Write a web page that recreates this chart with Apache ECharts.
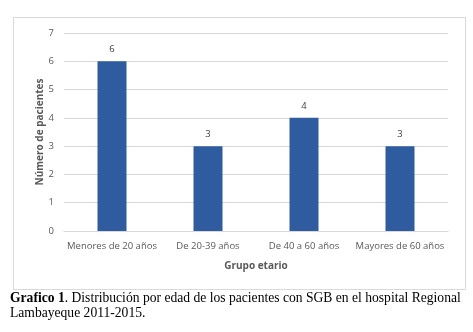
<!DOCTYPE html>
<html><head><meta charset="utf-8">
<script src="https://cdn.jsdelivr.net/npm/echarts@6/dist/echarts.min.js"></script>
<style>html,body{margin:0;padding:0;background:#fff}#c{width:473px;height:332px}</style>
</head><body><div id="c"></div>
<script>
const categories = ['Menores de 20 años', 'De 20-39 años', 'De 40 a 60 años', 'Mayores de 60 años'];
const patients = [6, 3, 4, 3];
const yTicks = [0, 1, 2, 3, 4, 5, 6, 7];
const yName = 'Número de pacientes';
const xName = 'Grupo etario';
const captionBold = 'Grafico 1';
const captionLine1 = '. Distribución por edad de los pacientes con SGB en el hospital Regional';
const captionLine2 = 'Lambayeque 2011-2015.';

const chart = echarts.init(document.getElementById('c'), null, {renderer: 'canvas'});
const font = '"Open Sans", sans-serif';
chart.setOption({
  animation: false,
  grid: {left: 64, right: 25, top: 33, bottom: 101},
  xAxis: {
    type: 'category', data: categories,
    axisLine: {lineStyle: {color: '#d9d9d9'}},
    axisTick: {show: false},
    axisLabel: {color: '#595959', fontFamily: font, fontSize: 9.5, margin: 10, interval: 0},
    name: xName, nameLocation: 'middle', nameGap: 30, nameMoveOverlap: false,
    nameTextStyle: {color: '#595959', fontFamily: font, fontSize: 10, fontWeight: 'bold'}
  },
  yAxis: {
    type: 'value', min: yTicks[0], max: yTicks[yTicks.length - 1], interval: 1,
    axisLine: {show: false}, axisTick: {show: false},
    splitLine: {lineStyle: {color: '#d9d9d9'}},
    axisLabel: {color: '#595959', fontFamily: font, fontSize: 9.5, margin: 10},
    name: yName, nameLocation: 'middle', nameGap: 19, nameMoveOverlap: false,
    nameTextStyle: {color: '#595959', fontFamily: font, fontSize: 10, fontWeight: 'bold'}
  },
  series: [{
    type: 'bar', data: patients, barWidth: 29,
    itemStyle: {color: '#2E5C9F'},
    label: {show: true, position: 'top', distance: 7, color: '#404040', fontFamily: font, fontSize: 9.5}
  }],
  graphic: [
    {type: 'rect', shape: {x: 13.5, y: 17.5, width: 452, height: 272}, style: {fill: 'none', stroke: '#d9d9d9', lineWidth: 1}, z: -1},
    {type: 'text', left: 10, top: 291, style: {
      text: '{b|' + captionBold + '}{n|' + captionLine1 + '}\n{n|' + captionLine2 + '}',
      rich: {
        b: {fontFamily: '"Liberation Serif", serif', fontSize: 13.6, fontWeight: 'bold', fill: '#000', lineHeight: 15},
        n: {fontFamily: '"Liberation Serif", serif', fontSize: 13.6, fill: '#000', lineHeight: 15}
      }
    }}
  ]
});
</script></body></html>
